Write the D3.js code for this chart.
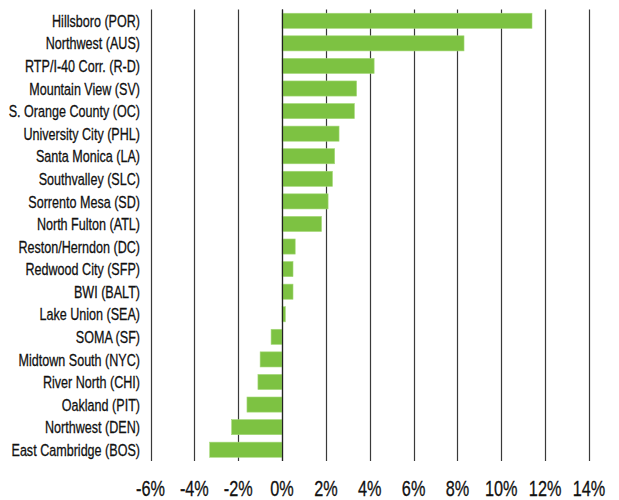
<!DOCTYPE html>
<html>
<head>
<meta charset="utf-8">
<script src="https://cdn.jsdelivr.net/npm/d3@7"></script>
<style>
  html, body { margin: 0; padding: 0; background: #fff; }
  svg { display: block; }
  text { font-family: "Liberation Sans", Arial, sans-serif; fill: #111; stroke: #111; stroke-width: 0.3px; }
</style>
</head>
<body>
<svg id="chart" width="619" height="500"></svg>
<script>
const categories = [
  "Hillsboro (POR)", "Northwest (AUS)", "RTP/I-40 Corr. (R-D)", "Mountain View (SV)",
  "S. Orange County (OC)", "University City (PHL)", "Santa Monica (LA)", "Southvalley (SLC)",
  "Sorrento Mesa (SD)", "North Fulton (ATL)", "Reston/Herndon (DC)", "Redwood City (SFP)",
  "BWI (BALT)", "Lake Union (SEA)", "SOMA (SF)", "Midtown South (NYC)",
  "River North (CHI)", "Oakland (PIT)", "Northwest (DEN)", "East Cambridge (BOS)"
];
const values = [
  11.4, 8.3, 4.2, 3.4,
  3.3, 2.6, 2.4, 2.3,
  2.1, 1.8, 0.6, 0.5,
  0.5, 0.15, -0.5, -1.0,
  -1.1, -1.6, -2.3, -3.3
];
const tickValues = [-6, -4, -2, 0, 2, 4, 6, 8, 10, 12, 14];
const tickLabels = ["-6%", "-4%", "-2%", "0%", "2%", "4%", "6%", "8%", "10%", "12%", "14%"];

const svg = d3.select("#chart");
const x = d3.scaleLinear().domain([-6, 14]).range([150.5, 589]);
const y = d3.scaleBand().domain(categories).range([9.5, 461]).paddingInner(0.33).paddingOuter(0.165);

// gridlines
svg.append("g").selectAll("line").data(tickValues).join("line")
  .attr("x1", d => Math.round(x(d)) + 0.5).attr("x2", d => Math.round(x(d)) + 0.5)
  .attr("y1", 9.5).attr("y2", 461)
  .attr("stroke", "#3a3a3a").attr("stroke-width", 1.2);

// bars
const data = categories.map((c, i) => ({ c, v: values[i] }));
svg.append("g").selectAll("rect").data(data).join("rect")
  .attr("x", d => x(Math.min(0, d.v)))
  .attr("width", d => Math.abs(x(d.v) - x(0)))
  .attr("y", d => y(d.c))
  .attr("height", y.bandwidth())
  .attr("fill", "#7dc242")
  .attr("stroke", "#a6d97a").attr("stroke-width", 0.6);

// zero line on top
svg.append("line")
  .attr("x1", Math.round(x(0)) + 0.5).attr("x2", Math.round(x(0)) + 0.5)
  .attr("y1", 9.5).attr("y2", 461)
  .attr("stroke", "#222").attr("stroke-width", 1.2);

// category labels (condensed)
svg.append("g").selectAll("text").data(categories).join("text")
  .attr("transform", d => `translate(140,${y(d) + y.bandwidth() / 2}) scale(0.74,1)`)
  .attr("dy", "0.36em")
  .attr("text-anchor", "end")
  .attr("font-size", 17)
  .text(d => d);

// x tick labels (condensed)
svg.append("g").selectAll("text").data(tickValues).join("text")
  .attr("transform", d => `translate(${x(d)},496) scale(0.74,1)`)
  .attr("text-anchor", "middle")
  .attr("font-size", 22)
  .text((d, i) => tickLabels[i]);
</script>
</body>
</html>
